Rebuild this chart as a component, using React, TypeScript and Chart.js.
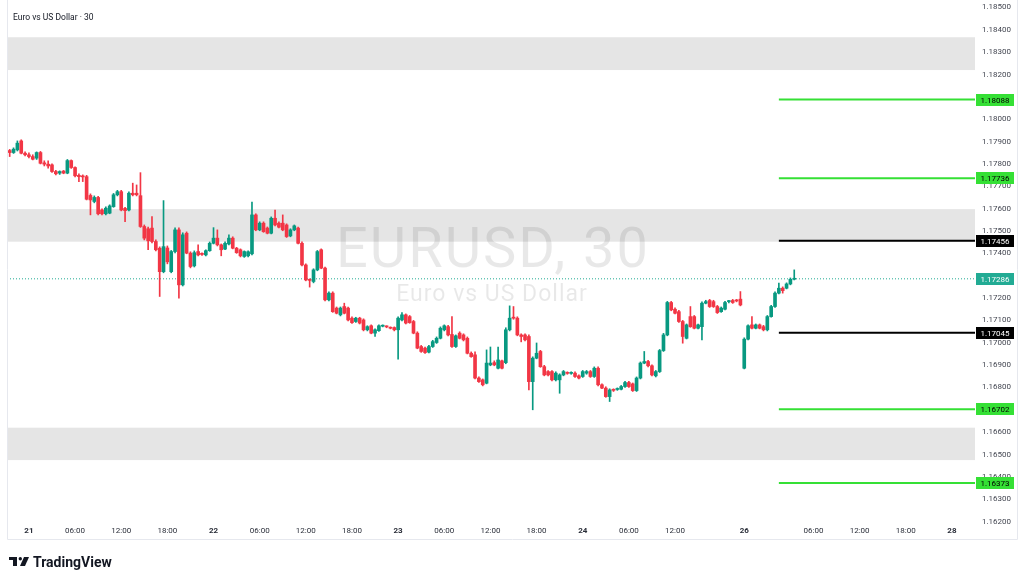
import React, { useEffect, useRef } from "react";
import { Chart, registerables } from "chart.js";

Chart.register(...registerables);

// ---- data ----
const FIRST_BAR = -5; // bar index of the first candle (bar 0 = 21 00:00, 30-min bars)

const opens = [
  1.17860, 1.17851, 1.17863, 1.17903, 1.17848,
  1.17841, 1.17833, 1.17826, 1.17851, 1.17805, 1.17799, 1.17796, 1.17766, 1.17759, 1.17768,
  1.17759, 1.17815, 1.17784, 1.17749, 1.17744, 1.17743, 1.17659, 1.17632, 1.17650, 1.17594,
  1.17577, 1.17580, 1.17609, 1.17662, 1.17676, 1.17601, 1.17594, 1.17669, 1.17669, 1.17658,
  1.17520, 1.17510, 1.17513, 1.17453, 1.17423, 1.17318, 1.17424, 1.17318, 1.17408, 1.17505,
  1.17259, 1.17490, 1.17401, 1.17344, 1.17408, 1.17400, 1.17393, 1.17412, 1.17445, 1.17468,
  1.17438, 1.17419, 1.17442, 1.17468, 1.17423, 1.17416, 1.17386, 1.17389, 1.17398, 1.17572,
  1.17505, 1.17535, 1.17513, 1.17490, 1.17557, 1.17535, 1.17535, 1.17527, 1.17478, 1.17505,
  1.17513, 1.17445, 1.17348, 1.17281, 1.17274, 1.17326, 1.17416, 1.17334, 1.17192, 1.17222,
  1.17155, 1.17125, 1.17162, 1.17155, 1.17110, 1.17095, 1.17110, 1.17102, 1.17058, 1.17076,
  1.17043, 1.17054, 1.17074, 1.17073, 1.17069, 1.17068, 1.17058, 1.17102, 1.17125, 1.17117,
  1.17095, 1.17043, 1.16983, 1.16976, 1.16958, 1.16983, 1.17001, 1.17020, 1.17058, 1.17072,
  1.17037, 1.16983, 1.17043, 1.17035, 1.17020, 1.16953, 1.16946, 1.16842, 1.16834, 1.16819,
  1.16901, 1.16911, 1.16886, 1.16919, 1.16911, 1.17058, 1.17111, 1.17110, 1.17035, 1.17035,
  1.17028, 1.16826, 1.16931, 1.16961, 1.16893, 1.16871, 1.16871, 1.16834, 1.16834, 1.16856,
  1.16865, 1.16863, 1.16864, 1.16852, 1.16849, 1.16864, 1.16871, 1.16849, 1.16886, 1.16812,
  1.16797, 1.16759, 1.16789, 1.16791, 1.16792, 1.16804, 1.16822, 1.16816, 1.16786, 1.16842,
  1.16909, 1.16916, 1.16897, 1.16852, 1.16871, 1.16965, 1.17035, 1.17180, 1.17150, 1.17139,
  1.17095, 1.17020, 1.17117, 1.17117, 1.17065, 1.17072, 1.17177, 1.17189, 1.17184, 1.17162,
  1.17139, 1.17150, 1.17184, 1.17189, 1.17190, 1.17195, 1.16886, 1.17016, 1.17080, 1.17065,
  1.17080, 1.17072, 1.17058, 1.17117, 1.17162, 1.17222, 1.17244, 1.17244, 1.17263, 1.17284,
];

const highs = [
  1.17865, 1.17872, 1.17903, 1.17908, 1.17854,
  1.17850, 1.17841, 1.17854, 1.17856, 1.17814, 1.17814, 1.17800, 1.17771, 1.17769, 1.17771,
  1.17820, 1.17818, 1.17787, 1.17756, 1.17751, 1.17749, 1.17666, 1.17657, 1.17655, 1.17599,
  1.17608, 1.17617, 1.17668, 1.17682, 1.17682, 1.17606, 1.17675, 1.17714, 1.17706, 1.17761,
  1.17527, 1.17518, 1.17565, 1.17460, 1.17429, 1.17636, 1.17433, 1.17413, 1.17514, 1.17514,
  1.17492, 1.17496, 1.17407, 1.17411, 1.17438, 1.17402, 1.17416, 1.17451, 1.17515, 1.17505,
  1.17442, 1.17451, 1.17483, 1.17474, 1.17427, 1.17420, 1.17411, 1.17411, 1.17629, 1.17577,
  1.17541, 1.17541, 1.17518, 1.17563, 1.17594, 1.17541, 1.17572, 1.17532, 1.17510, 1.17527,
  1.17518, 1.17451, 1.17353, 1.17286, 1.17331, 1.17413, 1.17420, 1.17339, 1.17228, 1.17228,
  1.17160, 1.17160, 1.17177, 1.17160, 1.17116, 1.17114, 1.17114, 1.17107, 1.17076, 1.17080,
  1.17062, 1.17080, 1.17080, 1.17076, 1.17071, 1.17071, 1.17116, 1.17135, 1.17129, 1.17122,
  1.17100, 1.17049, 1.16988, 1.16981, 1.16988, 1.17011, 1.17026, 1.17071, 1.17080, 1.17078,
  1.17117, 1.17035, 1.17049, 1.17040, 1.17026, 1.16959, 1.16959, 1.16847, 1.16838, 1.16968,
  1.16981, 1.16919, 1.16981, 1.16923, 1.17067, 1.17165, 1.17162, 1.17116, 1.17040, 1.17040,
  1.17035, 1.16937, 1.16999, 1.16966, 1.16899, 1.16876, 1.16876, 1.16870, 1.16861, 1.16876,
  1.16870, 1.16870, 1.16870, 1.16856, 1.16876, 1.16876, 1.16876, 1.16892, 1.16892, 1.16816,
  1.16803, 1.16794, 1.16794, 1.16798, 1.16809, 1.16827, 1.16827, 1.16820, 1.16847, 1.16914,
  1.16961, 1.16921, 1.16901, 1.16876, 1.16970, 1.17042, 1.17185, 1.17185, 1.17156, 1.17145,
  1.17100, 1.17084, 1.17162, 1.17122, 1.17084, 1.17183, 1.17190, 1.17194, 1.17190, 1.17167,
  1.17160, 1.17185, 1.17190, 1.17194, 1.17194, 1.17229, 1.17022, 1.17080, 1.17117, 1.17084,
  1.17084, 1.17078, 1.17122, 1.17167, 1.17228, 1.17267, 1.17250, 1.17268, 1.17290, 1.17326,
];

const lows = [
  1.17833, 1.17847, 1.17858, 1.17845, 1.17836,
  1.17827, 1.17818, 1.17820, 1.17800, 1.17791, 1.17781, 1.17762, 1.17751, 1.17753, 1.17756,
  1.17756, 1.17780, 1.17742, 1.17721, 1.17721, 1.17639, 1.17572, 1.17626, 1.17572, 1.17572,
  1.17572, 1.17577, 1.17606, 1.17657, 1.17590, 1.17542, 1.17590, 1.17657, 1.17657, 1.17516,
  1.17460, 1.17416, 1.17447, 1.17411, 1.17207, 1.17313, 1.17353, 1.17313, 1.17402, 1.17199,
  1.17254, 1.17398, 1.17335, 1.17339, 1.17389, 1.17391, 1.17389, 1.17409, 1.17442, 1.17433,
  1.17389, 1.17416, 1.17438, 1.17420, 1.17400, 1.17384, 1.17382, 1.17384, 1.17393, 1.17501,
  1.17501, 1.17494, 1.17487, 1.17487, 1.17523, 1.17514, 1.17501, 1.17471, 1.17474, 1.17501,
  1.17442, 1.17344, 1.17277, 1.17249, 1.17268, 1.17322, 1.17331, 1.17187, 1.17187, 1.17136,
  1.17129, 1.17120, 1.17129, 1.17098, 1.17087, 1.17091, 1.17084, 1.17053, 1.17053, 1.17040,
  1.17028, 1.17051, 1.17071, 1.17067, 1.17062, 1.17053, 1.16927, 1.17098, 1.17084, 1.17087,
  1.17040, 1.16973, 1.16957, 1.16952, 1.16955, 1.16979, 1.16997, 1.17017, 1.17053, 1.17031,
  1.16979, 1.16979, 1.17017, 1.17008, 1.16950, 1.16935, 1.16838, 1.16823, 1.16807, 1.16816,
  1.16897, 1.16897, 1.16883, 1.16883, 1.16906, 1.17053, 1.17105, 1.17031, 1.17004, 1.17008,
  1.16789, 1.16700, 1.16928, 1.16890, 1.16852, 1.16852, 1.16829, 1.16829, 1.16774, 1.16852,
  1.16859, 1.16859, 1.16845, 1.16838, 1.16845, 1.16859, 1.16845, 1.16845, 1.16807, 1.16794,
  1.16756, 1.16737, 1.16782, 1.16787, 1.16789, 1.16800, 1.16800, 1.16782, 1.16782, 1.16838,
  1.16906, 1.16892, 1.16852, 1.16847, 1.16867, 1.16961, 1.17031, 1.17143, 1.17129, 1.17091,
  1.16998, 1.17017, 1.17069, 1.17062, 1.17062, 1.17013, 1.17174, 1.17158, 1.17158, 1.17131,
  1.17136, 1.17147, 1.17178, 1.17176, 1.17183, 1.17165, 1.16883, 1.17013, 1.17062, 1.17062,
  1.17062, 1.17053, 1.17053, 1.17114, 1.17158, 1.17219, 1.17222, 1.17241, 1.17259, 1.17281,
];

const closes = [
  1.17851, 1.17866, 1.17893, 1.17848, 1.17841,
  1.17833, 1.17821, 1.17851, 1.17803, 1.17799, 1.17791, 1.17766, 1.17756, 1.17766, 1.17759,
  1.17815, 1.17784, 1.17747, 1.17743, 1.17742, 1.17642, 1.17639, 1.17650, 1.17577, 1.17577,
  1.17602, 1.17612, 1.17662, 1.17676, 1.17594, 1.17591, 1.17669, 1.17662, 1.17662, 1.17520,
  1.17468, 1.17456, 1.17453, 1.17416, 1.17318, 1.17430, 1.17362, 1.17408, 1.17505, 1.17259,
  1.17483, 1.17401, 1.17341, 1.17403, 1.17393, 1.17395, 1.17412, 1.17445, 1.17468, 1.17438,
  1.17416, 1.17445, 1.17468, 1.17423, 1.17403, 1.17389, 1.17408, 1.17407, 1.17572, 1.17505,
  1.17535, 1.17497, 1.17490, 1.17557, 1.17527, 1.17517, 1.17505, 1.17475, 1.17505, 1.17523,
  1.17445, 1.17348, 1.17281, 1.17279, 1.17326, 1.17408, 1.17334, 1.17192, 1.17222, 1.17139,
  1.17132, 1.17155, 1.17132, 1.17102, 1.17090, 1.17110, 1.17088, 1.17058, 1.17072, 1.17043,
  1.17058, 1.17076, 1.17076, 1.17071, 1.17065, 1.17058, 1.17110, 1.17125, 1.17088, 1.17090,
  1.17043, 1.16976, 1.16961, 1.16956, 1.16983, 1.17005, 1.17020, 1.17065, 1.17076, 1.17035,
  1.16983, 1.17031, 1.17020, 1.17013, 1.16953, 1.16938, 1.16842, 1.16826, 1.16812, 1.16909,
  1.16909, 1.16901, 1.16923, 1.16886, 1.17058, 1.17110, 1.17110, 1.17035, 1.17028, 1.17013,
  1.16826, 1.16931, 1.16953, 1.16893, 1.16856, 1.16856, 1.16834, 1.16864, 1.16856, 1.16871,
  1.16863, 1.16865, 1.16849, 1.16842, 1.16871, 1.16871, 1.16849, 1.16886, 1.16812, 1.16797,
  1.16759, 1.16789, 1.16787, 1.16794, 1.16804, 1.16822, 1.16804, 1.16786, 1.16842, 1.16909,
  1.16916, 1.16897, 1.16856, 1.16871, 1.16965, 1.17035, 1.17180, 1.17147, 1.17132, 1.17095,
  1.17028, 1.17080, 1.17072, 1.17065, 1.17080, 1.17177, 1.17184, 1.17162, 1.17162, 1.17135,
  1.17155, 1.17180, 1.17186, 1.17180, 1.17187, 1.17169, 1.17016, 1.17076, 1.17065, 1.17080,
  1.17065, 1.17058, 1.17117, 1.17162, 1.17222, 1.17244, 1.17233, 1.17263, 1.17284, 1.17286,
];

const xTickBars = [0, 12, 24, 36, 48, 60, 72, 84, 96, 108, 120, 132, 144, 156, 168, 186, 204, 216, 228, 240];
const xTickLabels = ["21", "06:00", "12:00", "18:00", "22", "06:00", "12:00", "18:00", "23", "06:00", "12:00", "18:00", "24", "06:00", "12:00", "26", "06:00", "12:00", "18:00", "28"];
const dayLabels = ["21", "22", "23", "24", "26", "28"];

const yTickValues = [
  1.185, 1.184, 1.183, 1.182, 1.181, 1.180, 1.179, 1.178, 1.177, 1.176, 1.175, 1.174,
  1.173, 1.172, 1.171, 1.170, 1.169, 1.168, 1.167, 1.166, 1.165, 1.164, 1.163, 1.162,
];

const greenLevels = [1.18088, 1.17736, 1.16702, 1.16373];
const blackLevels = [1.17456, 1.17045];
const lastPrice = 1.17286;
const levelStartBar = 195;
const zoneTops = [1.18367, 1.17598, 1.16620];
const zoneBottoms = [1.18220, 1.17452, 1.16475];

const X_MIN = -5.7;
const X_MAX = 246;
const Y_MIN = 1.16198;
const Y_MAX = 1.18529;

const GREEN = "#089981";
const RED = "#f23645";
const LIME = "#35e035";
const TEAL = "#22ab94";
const FONT = "Roboto";

export default function App() {
  const ref = useRef<HTMLCanvasElement>(null);

  useEffect(() => {
    const bars = opens.map((_, k) => FIRST_BAR + k);
    const colors = closes.map((c, k) => (c >= opens[k] ? GREEN : RED));
    const allLevels = [...greenLevels, ...blackLevels, lastPrice];

    const levelSets: any[] = [
      ...greenLevels.map((v) => ({
        type: "line",
        data: [{ x: levelStartBar, y: v }, { x: X_MAX, y: v }],
        borderColor: LIME,
        borderWidth: 2,
        pointRadius: 0,
        order: 0,
      })),
      ...blackLevels.map((v) => ({
        type: "line",
        data: [{ x: levelStartBar, y: v }, { x: X_MAX, y: v }],
        borderColor: "#000000",
        borderWidth: 2,
        pointRadius: 0,
        order: 0,
      })),
    ];

    const overlay = {
      id: "overlay",
      beforeDatasetsDraw(chart: any) {
        const { ctx, chartArea, scales } = chart;
        const y = scales.y;
        ctx.save();
        // watermark
        ctx.fillStyle = "rgba(0,0,0,0.09)";
        ctx.textAlign = "center";
        ctx.textBaseline = "alphabetic";
        (ctx as any).letterSpacing = "2px";
        ctx.font = `56px ${FONT}`;
        ctx.fillText("EURUSD, 30", 493, 267);
        (ctx as any).letterSpacing = "1px";
        ctx.font = `23px ${FONT}`;
        ctx.fillText("Euro vs US Dollar", 492, 301);
        (ctx as any).letterSpacing = "0px";
        // zones
        ctx.fillStyle = "rgba(0,0,0,0.1)";
        zoneTops.forEach((t, i) => {
          const y1 = y.getPixelForValue(t);
          const y2 = y.getPixelForValue(zoneBottoms[i]);
          ctx.fillRect(chartArea.left, y1, chartArea.right - chartArea.left, y2 - y1);
        });
        ctx.restore();
      },
      afterDraw(chart: any) {
        const { ctx, scales } = chart;
        const y = scales.y;
        ctx.save();
        // badges
        const badge = (v: number, bg: string, fg: string) => {
          const py = Math.round(y.getPixelForValue(v));
          ctx.fillStyle = bg;
          ctx.fillRect(976, py - 6, 38, 12);
          ctx.fillStyle = fg;
          ctx.font = `8px ${FONT}`;
          ctx.textAlign = "center";
          ctx.textBaseline = "middle";
          ctx.fillText(v.toFixed(5), 995, py + 0.5);
        };
        greenLevels.forEach((v) => badge(v, LIME, "#000000"));
        blackLevels.forEach((v) => badge(v, "#000000", "#ffffff"));
        badge(lastPrice, TEAL, "#ffffff");

        // frame
        ctx.strokeStyle = "#e6e8ee";
        ctx.lineWidth = 1;
        ctx.beginPath();
        ctx.moveTo(7.5, 0);
        ctx.lineTo(7.5, 539.5);
        ctx.lineTo(1017.5, 539.5);
        ctx.lineTo(1017.5, 0);
        ctx.stroke();

        // title
        ctx.fillStyle = "#131722";
        ctx.font = `8.5px ${FONT}`;
        ctx.textAlign = "left";
        ctx.textBaseline = "middle";
        ctx.fillText("Euro vs US Dollar · 30", 13, 18);

        // logo
        ctx.fillStyle = "#131722";
        ctx.fillRect(9, 557, 8, 3);
        ctx.fillRect(13, 557, 4, 9);
        ctx.beginPath();
        ctx.arc(20.3, 558.8, 1.7, 0, Math.PI * 2);
        ctx.fill();
        ctx.beginPath();
        ctx.moveTo(24, 557);
        ctx.lineTo(29, 557);
        ctx.lineTo(25, 566);
        ctx.lineTo(20, 566);
        ctx.closePath();
        ctx.fill();
        ctx.font = `bold 14px ${FONT}`;
        ctx.textBaseline = "alphabetic";
        ctx.fillText("TradingView", 33, 566.5);
        ctx.restore();
      },
    };

    const chart = new Chart(ref.current as HTMLCanvasElement, {
      type: "bar",
      data: {
        datasets: [
          {
            type: "line",
            data: [{ x: X_MIN, y: lastPrice }, { x: X_MAX, y: lastPrice }],
            borderColor: TEAL,
            borderWidth: 1,
            borderDash: [1, 2],
            pointRadius: 0,
            order: 5,
          } as any,
          {
            type: "bar",
            data: bars.map((x, k) => ({ x, y: [lows[k], highs[k]] })),
            backgroundColor: colors,
            barThickness: 1,
            grouped: false,
            order: 3,
          } as any,
          {
            type: "bar",
            data: bars.map((x, k) => ({ x, y: [opens[k], closes[k]] })),
            backgroundColor: colors,
            barThickness: 3,
            minBarLength: 1,
            grouped: false,
            order: 2,
          } as any,
          ...levelSets,
        ],
      },
      options: {
        responsive: false,
        animation: false,
        events: [],
        layout: { padding: { left: 7, right: 7, top: 1, bottom: 43 } },
        plugins: { legend: { display: false }, tooltip: { enabled: false } },
        scales: {
          x: {
            type: "linear",
            min: X_MIN,
            max: X_MAX,
            offset: false,
            grid: { display: false, drawTicks: false },
            border: { display: false },
            afterBuildTicks: (s: any) => {
              s.ticks = xTickBars.map((v) => ({ value: v }));
            },
            afterFit: (s: any) => {
              s.height = 17;
              s.paddingLeft = 0;
              s.paddingRight = 0;
            },
            ticks: {
              autoSkip: false,
              maxRotation: 0,
              padding: 4,
              color: "#2a2e39",
              font: (c: any) => ({
                family: FONT,
                size: 8,
                weight: dayLabels.includes(xTickLabels[c.index]) ? "bold" : "normal",
              }),
              callback: (_v: any, i: number) => xTickLabels[i],
            },
          },
          y: {
            type: "linear",
            position: "right",
            min: Y_MIN,
            max: Y_MAX,
            grid: { display: false, drawTicks: false },
            border: { display: false },
            afterBuildTicks: (s: any) => {
              s.ticks = yTickValues.map((v) => ({ value: v }));
            },
            afterFit: (s: any) => {
              s.width = 42;
              s.paddingTop = 0;
              s.paddingBottom = 0;
            },
            ticks: {
              autoSkip: false,
              padding: 7,
              color: "#434651",
              font: { family: FONT, size: 8 },
              callback: (v: any) => {
                const n = Number(v);
                if (allLevels.some((l) => Math.abs(l - n) < 0.0002)) return "";
                return n.toFixed(5);
              },
            },
          },
        },
      } as any,
      plugins: [overlay],
    });
    return () => chart.destroy();
  }, []);

  return (
    <div style={{ position: "absolute", left: 0, top: 0, width: 1024, height: 582, background: "#ffffff" }}>
      <canvas ref={ref} width={1024} height={582} style={{ display: "block" }} />
    </div>
  );
}
